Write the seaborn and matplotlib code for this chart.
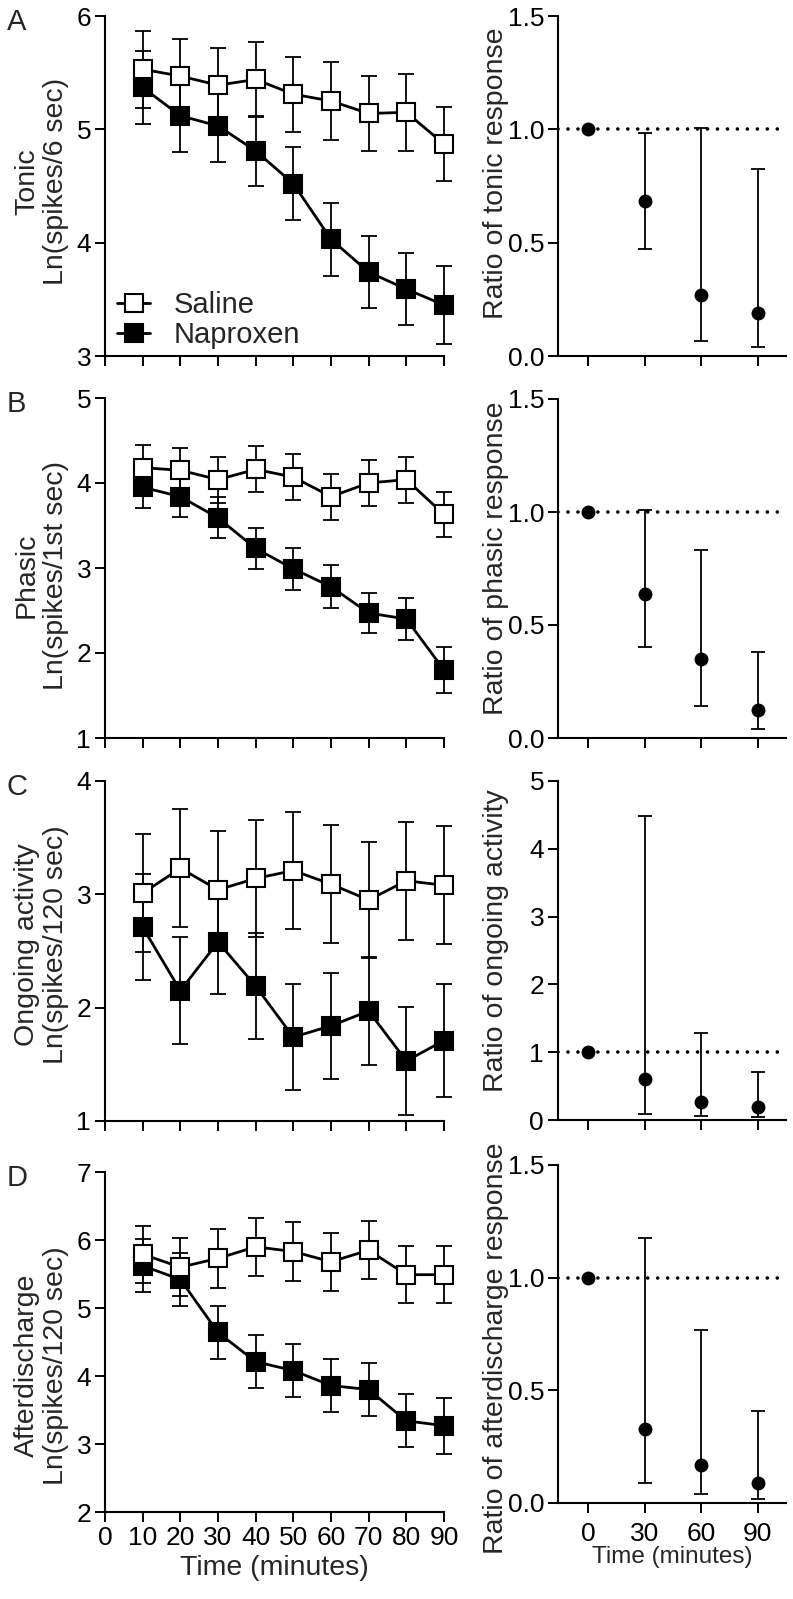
import numpy as np
import pandas as pd
import matplotlib
matplotlib.use("Agg")
import matplotlib.pyplot as plt
from matplotlib.lines import Line2D
import seaborn as sns

# ---------------- data ----------------
time_min = [10, 20, 30, 40, 50, 60, 70, 80, 90]
ratio_time = [0, 30, 60, 90]

tonic_saline = [5.53, 5.47, 5.39, 5.44, 5.31, 5.25, 5.14, 5.15, 4.87]
tonic_saline_se = [0.34, 0.33, 0.33, 0.33, 0.33, 0.34, 0.33, 0.34, 0.33]
tonic_naproxen = [5.37, 5.12, 5.03, 4.81, 4.52, 4.03, 3.74, 3.59, 3.45]
tonic_naproxen_se = [0.32, 0.32, 0.32, 0.31, 0.32, 0.32, 0.32, 0.32, 0.34]

phasic_saline = [4.18, 4.15, 4.04, 4.16, 4.07, 3.84, 4.00, 4.04, 3.63]
phasic_saline_se = [0.27, 0.26, 0.27, 0.27, 0.27, 0.27, 0.27, 0.27, 0.27]
phasic_naproxen = [3.95, 3.84, 3.59, 3.23, 2.99, 2.78, 2.47, 2.40, 1.80]
phasic_naproxen_se = [0.24, 0.24, 0.24, 0.245, 0.245, 0.25, 0.24, 0.245, 0.265]

ongoing_saline = [3.01, 3.23, 3.04, 3.14, 3.21, 3.09, 2.95, 3.12, 3.08]
ongoing_saline_se = [0.52, 0.52, 0.52, 0.52, 0.52, 0.52, 0.51, 0.52, 0.52]
ongoing_naproxen = [2.71, 2.15, 2.58, 2.19, 1.74, 1.84, 1.97, 1.53, 1.71]
ongoing_naproxen_se = [0.47, 0.47, 0.46, 0.47, 0.47, 0.47, 0.475, 0.48, 0.495]

after_saline = [5.79, 5.60, 5.73, 5.90, 5.83, 5.68, 5.85, 5.49, 5.49]
after_saline_se = [0.42, 0.43, 0.43, 0.43, 0.43, 0.43, 0.43, 0.42, 0.42]
after_naproxen = [5.62, 5.42, 4.64, 4.21, 4.08, 3.86, 3.80, 3.34, 3.27]
after_naproxen_se = [0.39, 0.39, 0.39, 0.39, 0.39, 0.39, 0.39, 0.39, 0.41]

tonic_ratio = [1.0, 0.684, 0.268, 0.188]
tonic_ratio_lo = [1.0, 0.471, 0.068, 0.038]
tonic_ratio_hi = [1.0, 0.985, 1.007, 0.824]

phasic_ratio = [1.0, 0.639, 0.350, 0.122]
phasic_ratio_lo = [1.0, 0.403, 0.143, 0.041]
phasic_ratio_hi = [1.0, 1.010, 0.830, 0.379]

ongoing_ratio = [1.0, 0.60, 0.27, 0.187]
ongoing_ratio_lo = [1.0, 0.083, 0.059, 0.049]
ongoing_ratio_hi = [1.0, 4.49, 1.28, 0.71]

after_ratio = [1.0, 0.327, 0.170, 0.088]
after_ratio_lo = [1.0, 0.088, 0.041, 0.019]
after_ratio_hi = [1.0, 1.177, 0.767, 0.410]

panel_letters = ["A", "B", "C", "D"]
left_labels = ["Tonic\nLn(spikes/6 sec)", "Phasic\nLn(spikes/1st sec)",
               "Ongoing activity\nLn(spikes/120 sec)", "Afterdischarge\nLn(spikes/120 sec)"]
right_labels = ["Ratio of tonic response", "Ratio of phasic response",
                "Ratio of ongoing activity", "Ratio of afterdischarge response"]
left_yticks = [[3, 4, 5, 6], [1, 2, 3, 4, 5], [1, 2, 3, 4], [2, 3, 4, 5, 6, 7]]
right_yticks = [[0.0, 0.5, 1.0, 1.5], [0.0, 0.5, 1.0, 1.5], [0, 1, 2, 3, 4, 5], [0.0, 0.5, 1.0, 1.5]]
right_yticklabels = [["0.0", "0.5", "1.0", "1.5"], ["0.0", "0.5", "1.0", "1.5"],
                     ["0", "1", "2", "3", "4", "5"], ["0.0", "0.5", "1.0", "1.5"]]
series_names = ["Saline", "Naproxen"]

# ---------------- style ----------------
sns.set_style("ticks")
plt.rcParams["font.family"] = ["Liberation Sans", "DejaVu Sans"]
plt.rcParams["axes.linewidth"] = 1.5
plt.rcParams["xtick.major.width"] = 1.4
plt.rcParams["ytick.major.width"] = 1.4
plt.rcParams["xtick.major.size"] = 7
plt.rcParams["ytick.major.size"] = 7
plt.rcParams["xtick.color"] = "black"
plt.rcParams["ytick.color"] = "black"
plt.rcParams["axes.edgecolor"] = "black"

W, H = 793, 1599
fig = plt.figure(figsize=(W / 100, H / 100), dpi=100)


def frac(x0, top, x1, bottom):
    return [x0 / W, 1 - bottom / H, (x1 - x0) / W, (bottom - top) / H]


def unclip(container):
    for child in container.get_children():
        child.set_clip_on(False)


left_boxes = [(105, 16, 444, 356), (105, 398, 444, 738), (105, 781, 444, 1121), (105, 1172, 444, 1512)]
right_boxes = [(558, 16, 786, 356), (558, 399, 786, 738), (558, 781, 786, 1120), (558, 1165, 786, 1503)]
left_label_y = [0.512, 0.479, 0.52, 0.43]
right_label_y = [0.538, 0.531, 0.528, 0.459]

saline_sets = [(tonic_saline, tonic_saline_se), (phasic_saline, phasic_saline_se),
               (ongoing_saline, ongoing_saline_se), (after_saline, after_saline_se)]
napro_sets = [(tonic_naproxen, tonic_naproxen_se), (phasic_naproxen, phasic_naproxen_se),
              (ongoing_naproxen, ongoing_naproxen_se), (after_naproxen, after_naproxen_se)]
ratio_sets = [(tonic_ratio, tonic_ratio_lo, tonic_ratio_hi), (phasic_ratio, phasic_ratio_lo, phasic_ratio_hi),
              (ongoing_ratio, ongoing_ratio_lo, ongoing_ratio_hi), (after_ratio, after_ratio_lo, after_ratio_hi)]

TICK_FS = 19
LABEL_FS = 20.5
MS = 12.5

for i in range(4):
    # ---------- left panel ----------
    ax = fig.add_axes(frac(*left_boxes[i]))
    for (vals, se), name, face, z in [(napro_sets[i], "Naproxen", "black", 3),
                                      (saline_sets[i], "Saline", "white", 4)]:
        eb = ax.errorbar(time_min, vals, yerr=se, fmt="none", ecolor="black",
                         elinewidth=1.3, capsize=6, capthick=1.3, zorder=z)
        unclip(eb)
        df = pd.DataFrame({"time": time_min, "value": vals})
        sns.lineplot(data=df, x="time", y="value", ax=ax, color="black", lw=2.0,
                     marker="s", markersize=MS, markerfacecolor=face,
                     markeredgecolor="black", markeredgewidth=1.5, zorder=z + 0.5,
                     clip_on=False)
    ax.set_xlim(0, 90)
    ax.set_xticks(range(0, 91, 10))
    ax.set_ylim(left_yticks[i][0], left_yticks[i][-1])
    ax.set_yticks(left_yticks[i])
    ax.set_yticklabels([str(t) for t in left_yticks[i]])
    ax.tick_params(axis="both", labelsize=TICK_FS, pad=3)
    sns.despine(ax=ax)
    ax.set_ylabel(left_labels[i], fontsize=LABEL_FS, linespacing=1.15)
    ax.yaxis.set_label_coords(-0.106, left_label_y[i])
    if i == 3:
        ax.set_xlabel("Time (minutes)", fontsize=LABEL_FS, labelpad=4)
    else:
        ax.set_xlabel("")
        ax.set_xticklabels([])
    fig.text(7 / W, 1 - (left_boxes[i][1] - 8) / H, panel_letters[i],
             fontsize=21, ha="left", va="top")
    if i == 0:
        handles = [Line2D([0], [0], color="black", lw=2.0, marker="s", markersize=MS,
                          markerfacecolor="white", markeredgecolor="black", markeredgewidth=1.5),
                   Line2D([0], [0], color="black", lw=2.0, marker="s", markersize=MS,
                          markerfacecolor="black", markeredgecolor="black", markeredgewidth=1.5)]
        ax.legend(handles, series_names, loc="lower left", frameon=False, fontsize=21,
                  bbox_to_anchor=(0.035, 0.02), borderpad=0, borderaxespad=0,
                  handlelength=1.15, handletextpad=0.8, labelspacing=0.08)
    else:
        lg = ax.get_legend()
        if lg is not None:
            lg.remove()

    # ---------- right panel ----------
    axr = fig.add_axes(frac(*right_boxes[i]))
    vals, lo, hi = ratio_sets[i]
    axr.axhline(1.0, color="black", lw=2.6, linestyle=(0, (0.01, 2.75)),
                dash_capstyle="round", zorder=1)
    v = np.array(vals[1:])
    lo_arr = v - np.array(lo[1:])
    hi_arr = np.array(hi[1:]) - v
    ebr = axr.errorbar(ratio_time[1:], v, yerr=[lo_arr, hi_arr], fmt="none", ecolor="black",
                       elinewidth=1.3, capsize=5, capthick=1.3, zorder=2)
    unclip(ebr)
    dfr = pd.DataFrame({"time": ratio_time, "ratio": vals})
    sns.scatterplot(data=dfr, x="time", y="ratio", ax=axr, color="black", s=100,
                    marker="o", edgecolor="black", linewidth=0, zorder=3, clip_on=False)
    axr.set_xlim(-16, 105)
    axr.set_xticks(ratio_time)
    axr.set_ylim(right_yticks[i][0], right_yticks[i][-1])
    axr.set_yticks(right_yticks[i])
    axr.set_yticklabels(right_yticklabels[i])
    axr.tick_params(axis="both", labelsize=TICK_FS, pad=3)
    sns.despine(ax=axr)
    axr.set_ylabel(right_labels[i], fontsize=LABEL_FS)
    axr.yaxis.set_label_coords(-0.215, right_label_y[i])
    if i == 3:
        axr.set_xticklabels([str(t) for t in ratio_time])
        axr.tick_params(axis="x", pad=7)
        axr.set_xlabel("Time (minutes)", fontsize=17.5, labelpad=0)
    else:
        axr.set_xticklabels([])
        axr.set_xlabel("")

fig.savefig("out.png", dpi=100)
